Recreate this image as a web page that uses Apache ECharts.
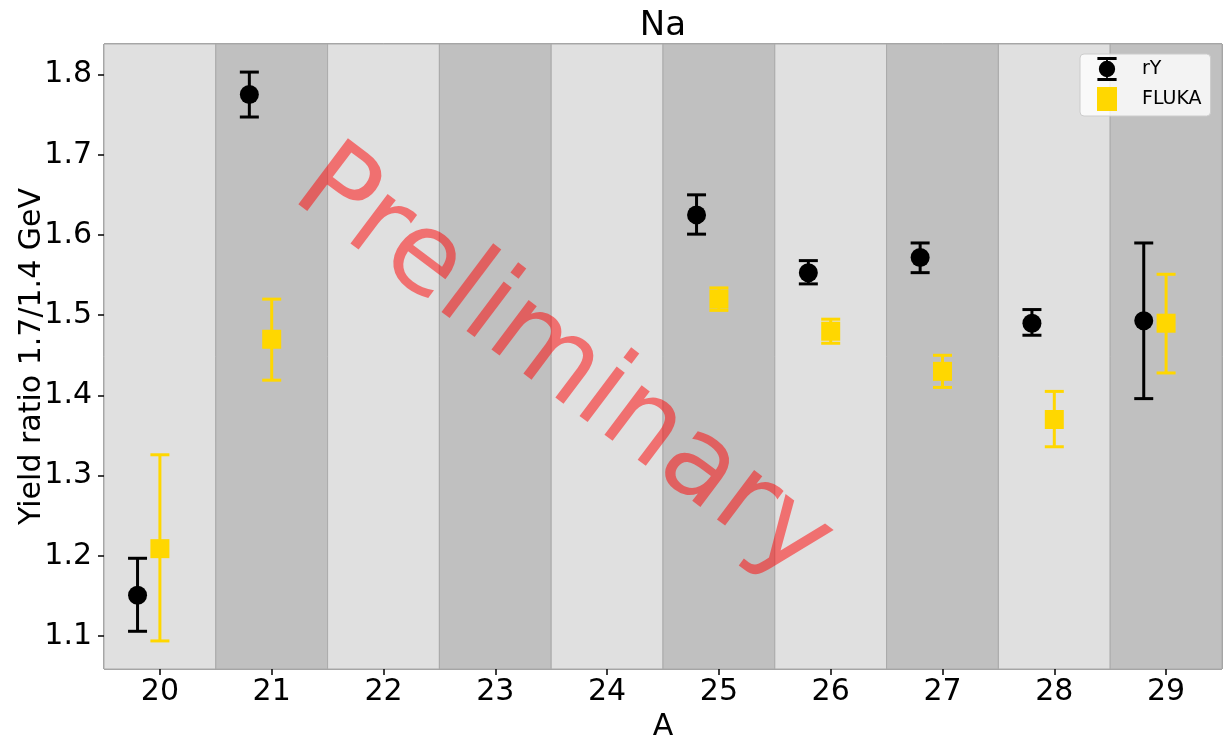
<!DOCTYPE html>
<html>
<head>
<meta charset="utf-8">
<script src="https://cdn.jsdelivr.net/npm/echarts@6/dist/echarts.min.js"></script>
<style>
html,body{margin:0;padding:0;background:#fff;}
#chart{width:1229px;height:749px;}
</style>
</head>
<body>
<div id="chart"></div>
<script>
// ---- data ----
const massNumbers = [20, 21, 25, 26, 27, 28, 29];
const rYValues = [1.151, 1.775, 1.625, 1.553, 1.572, 1.490, 1.493];
const rYLow    = [1.106, 1.747, 1.601, 1.539, 1.553, 1.475, 1.396];
const rYHigh   = [1.197, 1.803, 1.650, 1.568, 1.590, 1.507, 1.590];
const flukaValues = [1.209, 1.470, 1.520, 1.480, 1.430, 1.370, 1.490];
const flukaLow    = [1.094, 1.419, 1.506, 1.465, 1.410, 1.336, 1.428];
const flukaHigh   = [1.326, 1.520, 1.534, 1.495, 1.450, 1.405, 1.551];
const bandCenters = [20, 21, 22, 23, 24, 25, 26, 27, 28, 29];
const xTickValues = [20, 21, 22, 23, 24, 25, 26, 27, 28, 29];
const yTickValues = [1.1, 1.2, 1.3, 1.4, 1.5, 1.6, 1.7, 1.8];

// ---- styling / layout ----
const FONT = 'DejaVu Sans';
const GOLD = '#FFD700';
const LIGHT = '#e0e0e0';
const DARK = '#c0c0c0';
const rYOffset = -0.2;

const rYPoints = massNumbers.map((a, i) => [a + rYOffset, rYValues[i]]);
const rYErr = massNumbers.map((a, i) => [a + rYOffset, rYLow[i], rYHigh[i]]);
const flukaPoints = massNumbers.map((a, i) => [a, flukaValues[i]]);
const flukaErr = massNumbers.map((a, i) => [a, flukaLow[i], flukaHigh[i]]);
const bandData = bandCenters.map((c, i) => [c, i % 2]);

function errRender(color) {
  return function (params, api) {
    const x = api.value(0), lo = api.value(1), hi = api.value(2);
    const pl = api.coord([x, lo]), ph = api.coord([x, hi]);
    const hw = 9.5;
    const st = { stroke: color, lineWidth: 3 };
    return {
      type: 'group',
      children: [
        { type: 'line', shape: { x1: pl[0], y1: pl[1], x2: ph[0], y2: ph[1] }, style: st },
        { type: 'line', shape: { x1: pl[0] - hw, y1: pl[1], x2: pl[0] + hw, y2: pl[1] }, style: st },
        { type: 'line', shape: { x1: ph[0] - hw, y1: ph[1], x2: ph[0] + hw, y2: ph[1] }, style: st }
      ]
    };
  };
}

const errIcon = 'path://M0,0H20V3H0Z M9,3H11V4.5H9Z M1.5,12.5A8.5,8.5 0 1,1 18.5,12.5A8.5,8.5 0 1,1 1.5,12.5Z M9,20.5H11V22H9Z M0,22H20V25H0Z';

const chart = echarts.init(document.getElementById('chart'), null, { renderer: 'canvas' });
chart.setOption({
  animation: false,
  backgroundColor: '#ffffff',
  textStyle: { fontFamily: FONT },
  title: {
    text: 'Na', left: 663, top: 9, textAlign: 'center', padding: 0,
    textStyle: { fontFamily: FONT, fontSize: 34, fontWeight: 'normal', color: '#000' }
  },
  legend: {
    data: [{ name: 'rY', icon: errIcon }, { name: 'FLUKA', icon: 'rect' }],
    orient: 'vertical', left: 1080, top: 54,
    padding: [3, 9, 5, 17], itemWidth: 20, itemHeight: 24, itemGap: 6,
    backgroundColor: 'rgba(255,255,255,0.8)', borderColor: '#cccccc', borderWidth: 1, borderRadius: 4,
    textStyle: { fontFamily: FONT, fontSize: 19, color: '#000', padding: [0, 0, 0, 20] }
  },
  grid: {
    left: 104, right: 7, top: 44, bottom: 80, show: true,
    outerBoundsMode: 'none', containLabel: false,
    borderColor: '#444', borderWidth: 1, backgroundColor: 'transparent'
  },
  xAxis: {
    type: 'value', min: 19.5, max: 29.5,
    name: 'A', nameLocation: 'middle', nameGap: 43, nameMoveOverlap: false,
    nameTextStyle: { fontFamily: FONT, fontSize: 30, color: '#000' },
    axisLine: { show: false },
    axisTick: { show: true, customValues: xTickValues, length: 6, lineStyle: { color: '#000', width: 1.5 } },
    axisLabel: { customValues: xTickValues, fontFamily: FONT, fontSize: 30, color: '#000', margin: 8 },
    splitLine: { show: false }
  },
  yAxis: {
    type: 'value', min: 1.059, max: 1.838,
    name: 'Yield ratio 1.7/1.4 GeV', nameLocation: 'middle', nameGap: 57, nameMoveOverlap: false,
    nameTextStyle: { fontFamily: FONT, fontSize: 30, color: '#000' },
    axisLine: { show: false },
    axisTick: { show: true, customValues: yTickValues, length: 6, lineStyle: { color: '#000', width: 1.5 } },
    axisLabel: { customValues: yTickValues, fontFamily: FONT, fontSize: 30, color: '#000', margin: 12,
      formatter: v => v.toFixed(1) },
    splitLine: { show: false }
  },
  graphic: [{
    type: 'text', x: 562, y: 366, rotation: -37 * Math.PI / 180, z: 2, silent: true,
    style: { text: 'Preliminary', fontSize: 113, fontFamily: FONT, fill: 'rgba(255,0,0,0.5)',
      align: 'center', verticalAlign: 'middle' }
  }],
  series: [
    {
      type: 'custom', name: 'bands', z: 0, silent: true, data: bandData,
      renderItem: function (params, api) {
        const c = api.value(0);
        const cs = params.coordSys;
        const p0 = api.coord([c - 0.5, 1.5]), p1 = api.coord([c + 0.5, 1.5]);
        return {
          type: 'rect',
          shape: { x: p0[0], y: cs.y, width: p1[0] - p0[0], height: cs.height },
          style: { fill: api.value(1) ? DARK : LIGHT, stroke: '#aaaaaa', lineWidth: 1 }
        };
      }
    },
    { type: 'custom', name: 'rY err', z: 5, data: rYErr, renderItem: errRender('#000000') },
    { type: 'scatter', name: 'rY', z: 6, data: rYPoints, symbol: 'circle', symbolSize: 19,
      itemStyle: { color: '#000000', opacity: 1 } },
    { type: 'custom', name: 'FLUKA err', z: 7, data: flukaErr, renderItem: errRender(GOLD) },
    { type: 'scatter', name: 'FLUKA', z: 8, data: flukaPoints, symbol: 'rect', symbolSize: 19,
      itemStyle: { color: GOLD, opacity: 1 } }
  ]
});
</script>
</body>
</html>
